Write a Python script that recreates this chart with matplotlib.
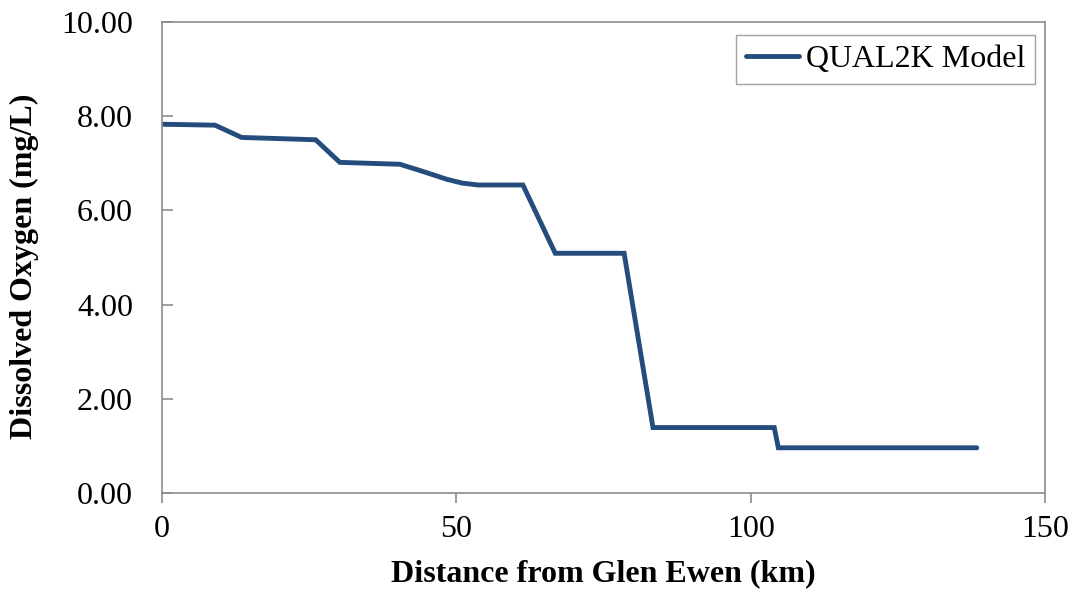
import numpy as np
import matplotlib
matplotlib.use("Agg")
from matplotlib import pyplot as plt

# QUAL2K dissolved oxygen profile along the river
distance = [0.0, 9.0, 13.5, 26.1, 30.2, 40.4, 44.5, 48.4, 51.0, 53.7, 61.3,
            66.8, 78.5, 83.4, 104.0, 104.7, 138.4]
oxygen = [7.83, 7.81, 7.55, 7.50, 7.02, 6.98, 6.82, 6.66, 6.58, 6.54, 6.54,
          5.09, 5.09, 1.39, 1.39, 0.96, 0.96]

x_ticks = [0, 50, 100, 150]
y_ticks = [0, 2, 4, 6, 8, 10]

plt.rcParams['font.family'] = ['Liberation Serif', 'DejaVu Serif']

fig = plt.figure(figsize=(10.76, 5.92), dpi=100)
ax = fig.add_axes([0.1506, 0.1672, 0.8206, 0.7956])

ax.plot(distance, oxygen, color='#244c7c', linewidth=3.5,
        solid_joinstyle='miter', solid_capstyle='round', label='QUAL2K Model')

ax.set_xlim(0, 150)
ax.set_ylim(0, 10)
ax.set_xticks(x_ticks)
ax.set_yticks(y_ticks)
ax.set_yticklabels(['%.2f' % v for v in y_ticks])

for s in ax.spines.values():
    s.set_color('#8c8c8c')
    s.set_linewidth(1.2)

ax.tick_params(axis='x', direction='out', length=7, width=1.2, color='#8c8c8c',
               labelsize=23, pad=9)
ax.tick_params(axis='y', direction='in', length=8, width=1.2, color='#8c8c8c',
               labelsize=23, pad=21)

ax.set_xlabel('Distance from Glen Ewen (km)', fontsize=23, fontweight='bold',
              labelpad=11)
ax.set_ylabel('Dissolved Oxygen (mg/L)', fontsize=23, fontweight='bold')
ax.yaxis.set_label_coords(-0.139, 0.481)

leg = ax.legend(loc='upper right', fontsize=23, frameon=True, fancybox=False,
                handlelength=1.66, handletextpad=0.22, borderpad=0.3,
                borderaxespad=0, bbox_to_anchor=(0.9887, 0.9724))
leg.get_frame().set_edgecolor('#8c8c8c')
leg.get_frame().set_linewidth(1.0)

fig.savefig('out.png', dpi=100)
